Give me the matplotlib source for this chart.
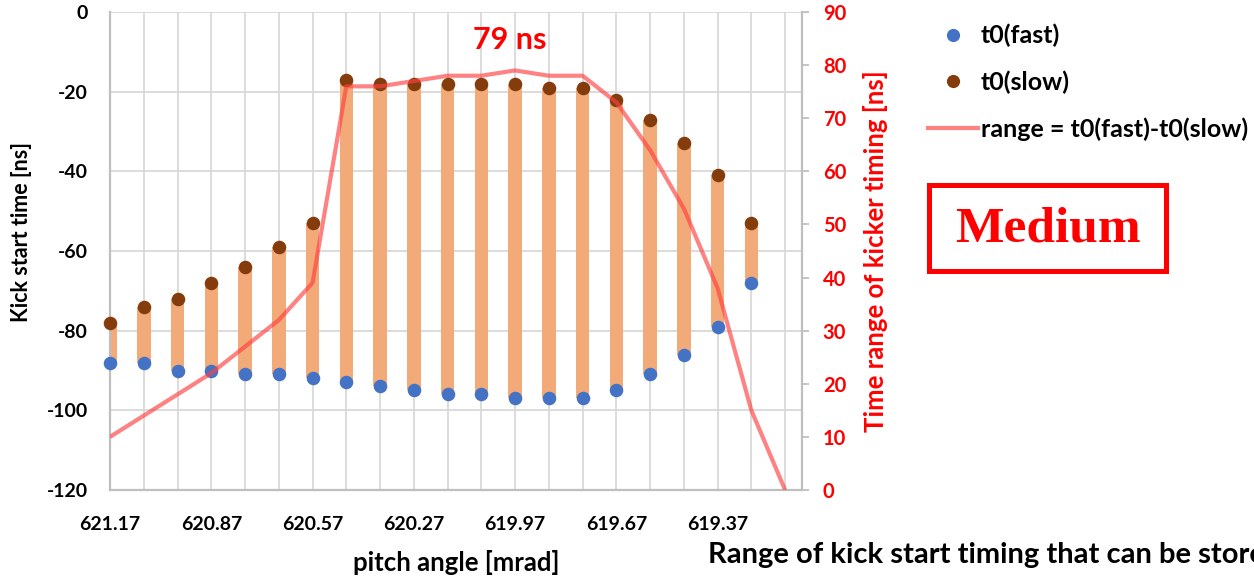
import matplotlib
matplotlib.use("Agg")
import matplotlib.pyplot as plt
from matplotlib.lines import Line2D
from matplotlib.patches import Rectangle
import numpy as np

plt.rcParams['font.family'] = ['Lato', 'DejaVu Sans']
plt.rcParams['font.weight'] = 'bold'
plt.rcParams['axes.unicode_minus'] = False

# ---- data ----
pitch_angles = ["621.17", "621.07", "620.97", "620.87", "620.77", "620.67", "620.57",
                "620.47", "620.37", "620.27", "620.17", "620.07", "619.97", "619.87",
                "619.77", "619.67", "619.57", "619.47", "619.37", "619.27", "619.17"]
t0_fast = [-88, -88, -90, -90, -91, -91, -92, -93, -94, -95,
           -96, -96, -97, -97, -97, -95, -91, -86, -79, -68]
t0_slow = [-78, -74, -72, -68, -64, -59, -53, -17, -18, -18,
           -18, -18, -18, -19, -19, -22, -27, -33, -41, -53]
timing_range = [10, 14, 18, 22, 27, 32, 39, 76, 76, 77, 78,
                78, 79, 78, 78, 73, 64, 53, 38, 15, 0]
label_every = 3

W, H = 1254, 577
fig = plt.figure(figsize=(W / 100, H / 100), dpi=100)
ax = fig.add_axes([110 / W, 87 / H, (802 - 110) / W, (490 - 12) / H])

x_all = np.arange(len(pitch_angles))
x_pts = np.arange(len(t0_fast))
fast = np.array(t0_fast)
slow = np.array(t0_slow)

grid_c = '#D9D9D9'
spine_c = '#BFBFBF'

ax.bar(x_pts, slow - fast, bottom=fast, width=0.4, color='#F2AB78', zorder=2)
ax.scatter(x_pts, fast, s=95, color='#4472C4', zorder=4, clip_on=False, linewidths=0)
ax.scatter(x_pts, slow, s=95, color='#843C0C', zorder=4, clip_on=False, linewidths=0)

ax.set_xlim(0, 20.5)
ax.set_ylim(-120, 0)
ax.set_yticks(np.arange(-120, 1, 20))
ax.set_xticks(x_all)
ax.set_xticklabels([p if i % label_every == 0 else '' for i, p in enumerate(pitch_angles)])
ax.grid(True, color=grid_c, lw=1.3, zorder=0)
ax.set_axisbelow(True)
ax.tick_params(axis='both', length=0, labelsize=14)
ax.tick_params(axis='y', pad=16)
ax.tick_params(axis='x', pad=19)
for s in ['left', 'bottom']:
    ax.spines[s].set_color(spine_c)
    ax.spines[s].set_linewidth(1.6)
ax.spines['top'].set_visible(False)
ax.spines['right'].set_visible(False)
ax.set_ylabel('Kick start time [ns]', fontsize=15.5, fontweight='bold')
ax.yaxis.set_label_coords(-0.112, 0.54)
ax.set_xlabel('pitch angle [mrad]', fontsize=18.5, fontweight='bold', labelpad=12)

ax2 = ax.twinx()
ax2.set_ylim(0, 90)
ax2.set_yticks(np.arange(0, 91, 10))
ax2.plot(x_all, timing_range, color='#FF4040', alpha=0.65, lw=3, zorder=5, solid_capstyle='butt')
ax2.tick_params(axis='y', colors=spine_c, labelcolor='red', labelsize=14.5, length=5, width=1.3, pad=10)
for lbl in ax2.get_yticklabels():
    lbl.set_fontweight('bold')
for s in ['left', 'bottom', 'top']:
    ax2.spines[s].set_visible(False)
ax2.spines['right'].set_color(spine_c)
ax2.spines['right'].set_linewidth(1.6)
ax2.set_ylabel('Time range of kicker timing [ns]', fontsize=18.5, fontweight='bold', color='red', labelpad=12)

imax = int(np.argmax(timing_range))
ax2.text(imax - 0.15, 84.8, f"{timing_range[imax]} ns", color='red', fontsize=22,
         fontweight='bold', ha='center', va='center')

for lbl in ax.get_xticklabels() + ax.get_yticklabels():
    lbl.set_fontweight('bold')

handles = [Line2D([], [], marker='o', ls='none', color='#4472C4', markersize=9.5, markeredgewidth=0),
           Line2D([], [], marker='o', ls='none', color='#843C0C', markersize=9.5, markeredgewidth=0),
           Line2D([], [], color='#FF4040', alpha=0.65, lw=3)]
labels = ['t0(fast)', 't0(slow)', 'range = t0(fast)-t0(slow)']
fig.legend(handles, labels, loc='upper left', bbox_to_anchor=(928 / W, 1 - 24 / H),
           frameon=False, borderpad=0, borderaxespad=0, handlelength=2.0,
           handletextpad=0.12, labelspacing=0.92, prop={'family': 'Lato', 'weight': 'bold', 'size': 18})

fig.add_artist(Rectangle((929 / W, 1 - 271 / H), 237 / W, 86 / H, transform=fig.transFigure,
                         fill=False, ec='red', lw=3.6))
fig.text(1048 / W, 1 - 230 / H, 'Medium', color='red', fontsize=37, fontweight='bold',
         family='Liberation Serif', ha='center', va='center')

fig.text(708 / W, 1 - 555 / H, 'Range of kick start timing that can be stored', fontsize=21,
         fontweight='bold', ha='left', va='center')

fig.savefig('out.png', dpi=100)
